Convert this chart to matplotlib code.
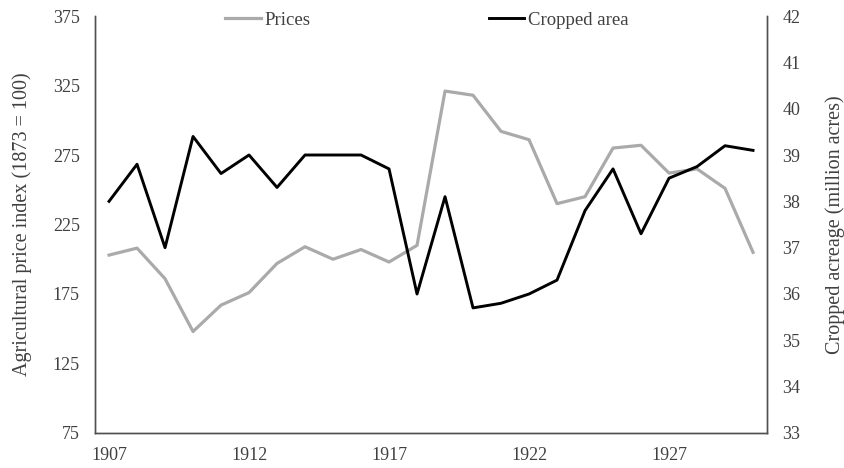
import matplotlib
matplotlib.use("Agg")
import matplotlib.pyplot as plt

years = list(range(1907, 1931))
prices = [203, 208, 186, 148, 167, 176, 197, 209, 200, 207, 198, 210,
          321, 318, 292, 286, 240, 245, 280, 282, 262, 265, 251, 205]
area = [38.0, 38.8, 37.0, 39.4, 38.6, 39.0, 38.3, 39.0, 39.0, 39.0, 38.7, 36.0,
        38.1, 35.7, 35.8, 36.0, 36.3, 37.8, 38.7, 37.3, 38.5, 38.75, 39.2, 39.1]
xticks = [1907, 1912, 1917, 1922, 1927]

TXT = "#404040"
plt.rcParams["font.family"] = ["Liberation Serif", "DejaVu Serif"]

fig = plt.figure(figsize=(8.44, 4.68), dpi=100)
ax = fig.add_axes([0.1126, 0.0748, 0.7962, 0.8910])
ax2 = ax.twinx()

l1, = ax.plot(years, prices, color="#aaaaaa", lw=2.3, label="Prices")
l2, = ax2.plot(years, area, color="black", lw=2.1, label="Cropped area")

ax.set_xlim(1906.5, 1930.5)
ax.set_ylim(75, 375)
ax.set_yticks(range(75, 376, 50))
ax2.set_ylim(33, 42)
ax2.set_yticks(range(33, 43))
ax.set_xticks(xticks)

for a in (ax, ax2):
    a.tick_params(length=0, labelsize=13, colors=TXT, pad=11)
    a.spines["top"].set_visible(False)
    for s in ("left", "right", "bottom"):
        a.spines[s].set_color("#505050")
        a.spines[s].set_linewidth(1.0)
ax.tick_params(axis="x", pad=10)

ax.set_ylabel("Agricultural price index (1873 = 100)", fontsize=14.5, color=TXT, labelpad=15)
ax2.set_ylabel("Cropped acreage (million acres)", fontsize=14.5, color=TXT,
               rotation=90, labelpad=18)

fig.legend(handles=[l1, l2], loc="center left", bbox_to_anchor=(0.247, 0.957),
           ncol=2, frameon=False, fontsize=13.5, columnspacing=9.5,
           handlelength=1.9, handletextpad=0.2, labelcolor=TXT)

fig.savefig("out.png", dpi=100)
